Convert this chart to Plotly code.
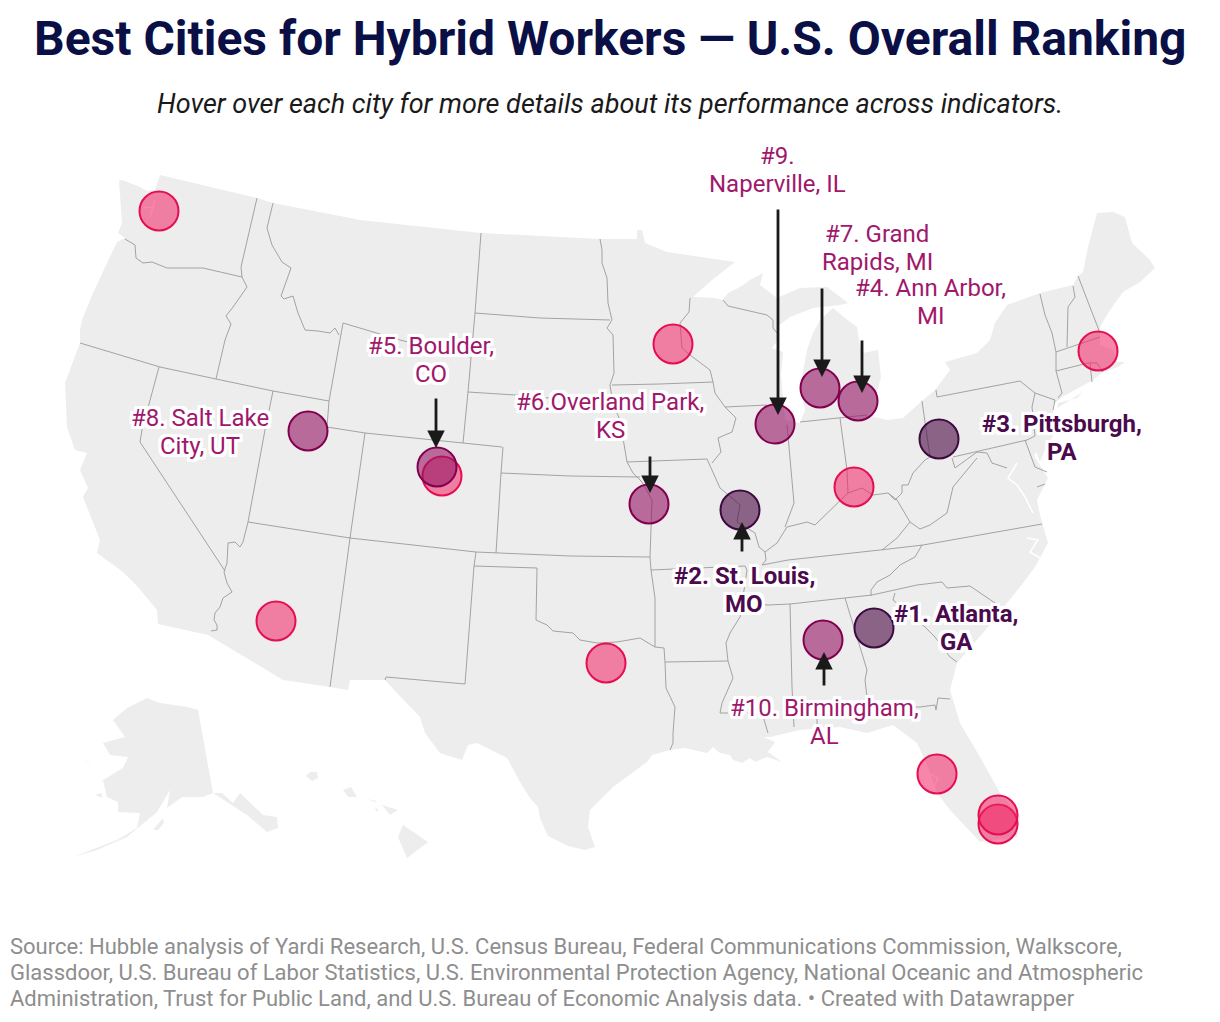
import plotly.graph_objects as go

# city markers (page pixels)
top3_names = ["Atlanta, GA", "St. Louis, MO", "Pittsburgh, PA"]
top3_x = [874, 740, 939]
top3_y = [628, 510, 439]

top10_names = ["Ann Arbor, MI", "Boulder, CO", "Overland Park, KS", "Grand Rapids, MI",
               "Salt Lake City, UT", "Naperville, IL", "Birmingham, AL"]
top10_x = [858, 437, 649, 820, 308, 775, 823]
top10_y = [401, 467, 504, 388, 431, 424, 640]

other_names = ["Seattle", "Phoenix", "Denver", "Austin", "Minneapolis", "Cincinnati",
               "Boston", "Tampa", "Miami", "Fort Lauderdale"]
other_x = [159, 276, 442, 606, 673, 854, 1098, 937, 998, 998]
other_y = [211, 621, 476, 663, 344, 487, 351, 774, 824, 815]

# labels, y is the middle of the block
label_text = ["#9.|Naperville, IL", "#7. Grand|Rapids, MI", "#4. Ann Arbor,|MI",
              "#5. Boulder,|CO", "#6.Overland Park,|KS", "#8. Salt Lake|City, UT",
              "#10. Birmingham,|AL"]
label_x = [777, 877, 930, 431, 610, 200, 824]
label_y = [170, 248, 302, 360, 416, 432, 722]

bold_text = ["#3. Pittsburgh,|PA", "#2. St. Louis,|MO", "#1. Atlanta,|GA"]
bold_x = [1062, 744, 956]
bold_y = [438, 590, 628]

# arrows: start and tip
arrow_x = [778, 822, 862, 436, 650, 742, 824]
arrow_y0 = [208, 287, 339, 397, 455, 553, 687]
arrow_y1 = [415, 377, 393, 448, 493, 522, 652]

# land outlines
land_x = [119, 122, 140, 147, 155, 160, 257, 273, 340, 360, 481, 600, 637, 637, 642, 645, 667, 687, 710, 735,
          712, 693, 715, 723, 728, 740, 750, 763, 760, 777, 800, 827, 848, 840, 813, 790, 777, 778, 772, 783,
          781, 785, 800, 805, 800, 807, 813, 820, 833, 845, 857, 860, 863, 878, 881, 875, 877, 867, 887, 903,
          923, 935, 950, 945, 977, 990, 995, 1007, 1040, 1073, 1078, 1083, 1088, 1097, 1113, 1125, 1132, 1150,
          1155, 1140, 1123, 1110, 1100, 1100, 1113, 1117, 1125, 1118, 1103, 1093, 1062, 1053, 1053, 1056, 1045,
          1040, 1036, 1034, 1043, 1048, 1037, 1040, 1048, 1035, 1023, 1007, 988, 957, 950, 960, 980, 1000, 1020,
          1017, 980, 950, 937, 928, 917, 893, 867, 840, 800, 770, 763, 775, 768, 782, 767, 755, 750, 742, 733,
          730, 720, 713, 707, 685, 670, 652, 647, 613, 590, 588, 595, 585, 568, 548, 540, 538, 530, 520,
          507, 477, 468, 462, 440, 425, 420, 397, 385, 350, 348, 330, 283,
          208, 158, 157, 138, 123, 97, 100, 83, 88, 80, 87, 75, 67, 65, 80, 80, 82, 93, 117, 125, 118, 122]
land_y = [181, 180, 187, 191, 190, 175, 198, 203, 216, 220, 233, 239, 239, 230, 230, 243, 252, 255, 258, 262,
          280, 297, 298, 300, 293, 287, 280, 273, 285, 298, 288, 287, 303, 305, 308, 317, 327, 340, 348, 352,
          375, 420, 423, 410, 387, 350, 333, 320, 308, 318, 327, 347, 353, 350, 377, 400, 407, 415, 420, 418,
          400, 390, 370, 362, 353, 340, 323, 305, 293, 285, 276, 272, 247, 213, 212, 217, 243, 260,
          268, 282, 292, 310, 327, 345, 350, 362, 362, 367, 372, 380, 397, 405, 412, 430, 450,
          462, 452, 456, 470, 478, 500, 515, 543, 567, 583, 603, 627, 663, 690, 723, 757, 793, 817,
          837, 842, 810, 793, 767, 743, 725, 733, 727, 730, 737, 737, 742, 752, 762, 757, 762, 758, 763, 760,
          755, 753, 747, 753, 748, 750, 755, 762, 787, 810, 827, 847, 850, 846, 836, 818, 807, 798, 782,
          758, 743, 745, 760, 753, 733, 717, 693, 680, 680, 690, 687, 680,
          635, 624, 610, 587, 572, 553, 540, 497, 488, 470, 453, 450, 427, 383, 343, 330, 320, 293, 242, 238, 233, 223]

long_island_x = [1057, 1083, 1077, 1058]
long_island_y = [408, 392, 398, 403]

alaska_x = [147, 127, 113, 125, 103, 110, 128, 123, 103, 107, 118, 118, 140, 137, 117, 97, 73, 97, 127, 157, 170,
            167, 182, 203, 213, 222, 233, 240, 263, 277, 278, 267, 247, 213, 198, 188, 160]
alaska_y = [698, 708, 720, 737, 743, 755, 757, 768, 780, 797, 802, 812, 813, 828, 840, 848, 857, 850, 837, 812, 790,
            808, 797, 797, 793, 793, 803, 793, 815, 817, 828, 832, 815, 793, 710, 707, 703]
kodiak_x = [153, 163, 164, 158]
kodiak_y = [830, 818, 823, 830]
lawrence_x = [83, 93, 87]
lawrence_y = [759, 765, 762]
nunivak_x = [95, 102, 102]
nunivak_y = [795, 793, 798]
kauai_x = [306, 310, 317, 318, 312]
kauai_y = [776, 772, 772, 778, 781]
oahu_x = [343, 351, 357, 348]
oahu_y = [790, 787, 797, 797]
molokai_x = [367, 377, 375]
molokai_y = [799, 801, 802]
maui_x = [382, 398, 390]
maui_y = [805, 810, 815]
lanai_x = [375, 379, 376]
lanai_y = [807, 811, 811]
big_island_x = [403, 428, 407, 398]
big_island_y = [825, 842, 858, 837]

# state borders, one polyline each
borders = [
    ([125, 135, 136, 143, 152, 167, 180, 203, 242], [239, 245, 258, 263, 262, 268, 268, 268, 277]),  # WA-OR
    ([257, 241, 242], [198, 267, 277]),  # WA-ID
    ([242, 247, 233, 226, 231, 225, 216], [277, 287, 307, 316, 324, 340, 379]),  # OR-ID
    ([80, 160, 216, 273, 329], [343, 367, 379, 391, 401]),  # 42nd parallel
    ([159, 149, 142, 140, 225], [367, 403, 430, 442, 571]),  # CA-NV
    ([273, 265, 248, 243, 240, 235, 228, 227, 224], [391, 430, 522, 542, 547, 542, 543, 563, 572]),  # NV-UT-AZ
    ([224, 227, 232, 223, 220, 215, 214, 217, 217, 211], [572, 583, 592, 598, 607, 613, 620, 625, 630, 631]),  # AZ-CA
    ([273, 267, 272, 282, 291, 285, 281, 284, 293, 298, 305, 318, 330, 335, 339],
     [203, 228, 245, 262, 268, 285, 296, 299, 296, 313, 330, 331, 333, 328, 335]),  # ID-MT
    ([343, 329, 327, 365, 463, 502], [323, 401, 427, 433, 443, 447]),  # ID-WY-UT-CO-NE
    ([343, 400, 470], [323, 340, 357]),  # MT-WY
    ([481, 475, 468, 463], [233, 313, 392, 443]),  # MT-ND-SD-WY
    ([475, 540, 610], [313, 318, 320]),  # ND-SD
    ([468, 515, 560, 612], [392, 395, 399, 404]),  # SD-NE
    ([612, 660, 713], [385, 384, 382]),  # MN-IA
    ([600, 602, 602, 607, 608, 612, 607, 613, 614, 610], [239, 250, 263, 278, 303, 320, 328, 335, 373, 385]),  # MN west
    ([610, 613, 620, 623, 625, 627, 633, 642, 652], [385, 404, 420, 440, 450, 462, 473, 482, 500]),  # Missouri river
    ([627, 680, 707], [462, 460, 459]),  # IA-MO
    ([501, 570, 640], [473, 476, 477]),  # NE-KS
    ([503, 501, 496], [447, 473, 553]),  # CO-KS
    ([248, 300, 350, 476, 496, 570, 650], [522, 530, 538, 552, 553, 556, 557]),  # 37th parallel
    ([365, 350, 330], [433, 538, 687]),  # UT-CO, AZ-NM
    ([476, 474, 465, 386, 385], [552, 566, 684, 677, 680]),  # NM-OK-TX
    ([474, 537, 536, 547, 553, 573, 580, 597, 617, 640, 655, 664],
     [566, 568, 620, 625, 631, 633, 640, 643, 642, 638, 647, 648]),  # TX-OK
    ([652, 650, 651, 655, 655], [500, 557, 570, 598, 647]),  # MO-KS, OK-AR
    ([664, 665, 666, 675, 673, 673, 670], [648, 662, 688, 707, 733, 743, 750]),  # TX-AR-LA
    ([665, 728], [662, 661]),  # AR-LA
    ([651, 745, 747], [570, 566, 570]),  # MO-AR
    ([707, 712, 720, 732, 740, 737, 755, 759, 765, 766, 762], [459, 470, 488, 498, 505, 522, 533, 547, 552, 560, 565]),  # MO-IL
    ([762, 788, 880, 923, 1042], [565, 560, 550, 545, 524]),  # KY-TN, VA-NC
    ([747, 740, 730, 726, 728, 733, 722, 720, 762, 768], [570, 617, 633, 643, 661, 678, 703, 713, 713, 733]),  # Mississippi
    ([740, 768, 790, 845, 872, 917, 942, 947, 970, 995, 1005], [603, 605, 604, 598, 595, 585, 582, 588, 586, 603, 610]),  # TN south, NC-SC
    ([790, 792, 794], [604, 687, 727]),  # MS-AL
    ([845, 867, 865, 867, 870, 920, 935, 936, 938, 950], [598, 670, 680, 697, 707, 707, 705, 710, 698, 699]),  # AL-GA-FL
    ([817, 817, 870], [727, 717, 707]),  # AL-FL
    ([895, 893, 925, 935, 950, 957], [593, 600, 627, 637, 657, 662]),  # GA-SC
    ([922, 915, 900, 890, 877, 871, 871], [545, 557, 565, 575, 582, 590, 596]),  # TN-NC
    ([882, 897, 910, 897, 888], [550, 538, 522, 500, 493]),  # KY-VA-WV
    ([910, 920, 930, 947, 953, 977], [522, 529, 525, 513, 487, 458]),  # VA-WV
    ([765, 777, 787, 807, 815, 837, 848, 862, 873, 888, 895, 902, 902, 908, 913, 925, 930],
     [552, 543, 527, 522, 525, 503, 493, 488, 495, 493, 500, 493, 485, 485, 473, 460, 457]),  # Ohio river
    ([787, 793, 794, 785], [425, 487, 503, 527]),  # IL-IN
    ([840, 847, 848], [418, 470, 493]),  # IN-OH
    ([800, 840, 867], [422, 418, 415]),  # MI south
    ([725, 767], [407, 405]),  # WI-IL
    ([690, 689, 680, 682, 690, 710, 713], [298, 312, 323, 348, 355, 370, 382]),  # MN-WI
    ([713, 715, 725, 736, 732, 718, 721, 712], [382, 393, 407, 418, 432, 438, 452, 463]),  # Mississippi upper
    ([723, 728, 767, 773, 773, 777], [300, 306, 315, 320, 328, 333]),  # WI-MI
    ([922, 930], [401, 457]),  # OH-PA
    ([936, 937, 1020, 1035, 1055, 1053], [390, 397, 381, 393, 400, 410]),  # PA-NY
    ([1035, 1032, 1035], [393, 407, 436]),  # PA-NJ
    ([953, 1027, 1035], [457, 440, 436]),  # PA-MD
    ([952, 955, 977, 987, 992, 1007], [458, 468, 452, 453, 463, 468]),  # WV-MD
    ([1025, 1035, 1047], [440, 467, 472]),  # MD-DE
    ([1037, 1045], [487, 484]),  # VA-MD
    ([1040, 1045, 1052, 1056, 1056, 1062, 1058], [294, 315, 333, 352, 371, 393, 398]),  # NY-VT-MA-CT
    ([1073, 1075, 1068, 1067], [286, 297, 307, 347]),  # VT-NH
    ([1078, 1097, 1100], [276, 327, 333]),  # NH-ME
    ([1056, 1100], [352, 337]),  # MA north
    ([1056, 1088, 1097, 1103], [371, 363, 363, 372]),  # MA south
    ([1090, 1092], [363, 382]),  # CT-RI
]

# bays cut out of the land
bays = [
    ([1017, 1008, 1017, 1025, 1033], [463, 478, 485, 497, 513]),  # Chesapeake
    ([1027, 1038, 1030, 1040], [538, 540, 552, 558]),  # Pamlico
    ([928, 938, 934], [773, 778, 787]),  # Tampa
    ([155, 150], [200, 217]),  # Puget
    ([143, 152], [208, 207]),
]

title_text = "Best Cities for Hybrid Workers — U.S. Overall Ranking"
subtitle_text = "Hover over each city for more details about its performance across indicators."
source_lines = ["Source: Hubble analysis of Yardi Research, U.S. Census Bureau, Federal Communications Commission, Walkscore,",
                "Glassdoor, U.S. Bureau of Labor Statistics, U.S. Environmental Protection Agency, National Oceanic and Atmospheric",
                "Administration, Trust for Public Land, and U.S. Bureau of Economic Analysis data. • Created with Datawrapper"]
source_y = [946, 972, 998]

LAND = "#ededed"
HALO = ", ".join(f"{a}px {b}px 0px #fff" for a in (-3, -1.5, 0, 1.5, 3) for b in (-3, -1.5, 0, 1.5, 3))

fig = go.Figure()


def add_land(xs, ys):
    fig.add_trace(go.Scatter(x=xs, y=ys, mode="lines", fill="toself", fillcolor=LAND,
                             line=dict(width=0, color=LAND), hoverinfo="skip", showlegend=False))


add_land(land_x, land_y)
add_land(long_island_x, long_island_y)
add_land(alaska_x, alaska_y)
add_land(kodiak_x, kodiak_y)
add_land(lawrence_x, lawrence_y)
add_land(nunivak_x, nunivak_y)
add_land(kauai_x, kauai_y)
add_land(oahu_x, oahu_y)
add_land(molokai_x, molokai_y)
add_land(maui_x, maui_y)
add_land(lanai_x, lanai_y)
add_land(big_island_x, big_island_y)

for bx, by in bays:
    fig.add_trace(go.Scatter(x=bx, y=by, mode="lines", line=dict(color="white", width=1.5),
                             hoverinfo="skip", showlegend=False))

for bx, by in borders:
    fig.add_trace(go.Scatter(x=bx, y=by, mode="lines", line=dict(color="#9a9a9a", width=0.9),
                             hoverinfo="skip", showlegend=False))


def add_cities(xs, ys, names, fill, edge):
    fig.add_trace(go.Scatter(x=xs, y=ys, mode="markers", text=names, hoverinfo="text", showlegend=False,
                             marker=dict(size=39, color=fill, line=dict(color=edge, width=2))))


add_cities(other_x, other_y, other_names, "rgba(242,35,101,0.55)", "#e50e52")
add_cities(top10_x, top10_y, top10_names, "rgba(149,20,99,0.6)", "#82004f")
add_cities(top3_x, top3_y, top3_names, "rgba(72,7,65,0.6)", "#3d0a40")

for x, y0, y1 in zip(arrow_x, arrow_y0, arrow_y1):
    fig.add_annotation(x=x, y=y1, ax=x, ay=y0, xref="x", yref="y", axref="x", ayref="y", text="",
                       showarrow=True, arrowhead=2, arrowsize=1.25, arrowwidth=2.8, arrowcolor="#1a1a1a",
                       standoff=0, startstandoff=0)


# line breaks are set by hand, the labels run tighter than plotly's <br> spacing
def add_block(text, x, y, color, bold):
    lines = text.split("|")
    for i, line in enumerate(lines):
        shown = f"<b>{line}</b>" if bold else line
        fig.add_annotation(x=x, y=y + (i - (len(lines) - 1) / 2) * 28, xref="x", yref="y", text=shown,
                           showarrow=False, font=dict(family="Roboto", size=24, color=color, shadow=HALO))


for text, x, y in zip(label_text, label_x, label_y):
    add_block(text, x, y, "#a0186c", False)

for text, x, y in zip(bold_text, bold_x, bold_y):
    add_block(text, x, y, "#4b0a4e", True)

fig.add_annotation(x=610, y=38, xref="x", yref="y", text=f"<b>{title_text}</b>", showarrow=False,
                   font=dict(family="Roboto", size=48, color="#0a0f45"))
fig.add_annotation(x=610, y=104, xref="x", yref="y", text=f"<i>{subtitle_text}</i>", showarrow=False,
                   font=dict(family="Roboto", size=27, color="#1a1a1a"))
for line, y in zip(source_lines, source_y):
    fig.add_annotation(x=8, y=y, xref="x", yref="y", xanchor="left", text=line, showarrow=False,
                       font=dict(family="Roboto", size=22, color="#8e8e8e"))

# the page body has an 8px margin, so the axes start at 8 to keep them in page pixels
fig.update_xaxes(range=[8, 1220], visible=False)
fig.update_yaxes(range=[1022, 8], visible=False)
fig.update_layout(width=1212, height=1014, margin=dict(l=0, r=0, t=0, b=0),
                  paper_bgcolor="white", plot_bgcolor="white", showlegend=False)
fig.write_html("out.html")
